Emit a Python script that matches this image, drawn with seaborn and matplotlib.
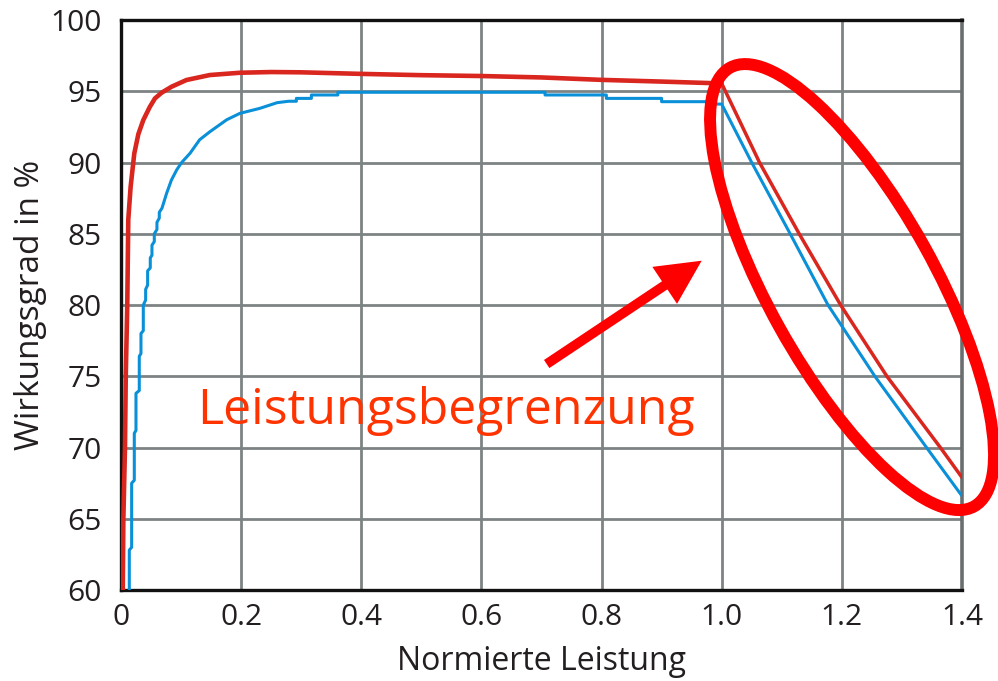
import numpy as np
import pandas as pd
import seaborn as sns
import matplotlib
matplotlib.use("Agg")
import matplotlib.pyplot as plt
from matplotlib.patches import Ellipse, FancyArrowPatch
from matplotlib.transforms import ScaledTranslation

# ---------------- data ----------------
red_x = [0.003, 0.004, 0.0067, 0.008, 0.0105, 0.0122, 0.0161, 0.0222, 0.029, 0.0372,
         0.048, 0.0566, 0.0677, 0.0843, 0.109, 0.148, 0.198, 0.25, 0.3, 0.4, 0.5, 0.6,
         0.7, 0.8, 0.9, 1.0]
red_y = [60.0, 65.0, 70.0, 75.0, 80.0, 86.0, 88.3, 90.64, 92.0, 92.98,
         93.9, 94.5, 94.9, 95.32, 95.79, 96.14, 96.3, 96.35, 96.33, 96.22, 96.13, 96.07,
         95.97, 95.8, 95.68, 95.55]

red_lim_x = [1.0, 1.063, 1.129, 1.198, 1.275, 1.364, 1.4]
red_lim_y = [95.55, 90.0, 85.0, 80.0, 75.0, 70.0, 67.9]

blue_x = [0.0139, 0.0139, 0.0178, 0.0178, 0.0222, 0.0222, 0.0250, 0.0250, 0.0305, 0.0305,
          0.0333, 0.0333, 0.0372, 0.0372, 0.0411, 0.0411, 0.0444, 0.0444, 0.0488, 0.0488,
          0.0516, 0.0516, 0.0555, 0.0555, 0.0599, 0.0599, 0.0638, 0.0638, 0.0683,
          0.076, 0.084, 0.093, 0.101, 0.115, 0.131, 0.148, 0.176, 0.198, 0.231, 0.26,
          0.279, 0.292, 0.292, 0.317, 0.317, 0.361, 0.361, 0.706, 0.706, 0.808, 0.808,
          0.9, 0.9, 0.983, 0.983, 1.0,
          1.05, 1.114, 1.177, 1.255, 1.341, 1.4]
blue_y = [60.0, 62.8, 63.0, 67.5, 67.7, 71.0, 71.2, 73.8, 74.0, 76.4,
          76.6, 78.0, 78.2, 80.0, 80.35, 81.1, 81.4, 82.4, 82.6, 83.3,
          83.5, 84.2, 84.45, 85.0, 85.3, 85.8, 86.1, 86.5, 86.8,
          87.84, 88.77, 89.5, 90.0, 90.65, 91.6, 92.16, 93.0, 93.45, 93.8, 94.2,
          94.3, 94.3, 94.5, 94.5, 94.74, 94.74, 94.93, 94.93, 94.74, 94.74, 94.5,
          94.5, 94.27, 94.27, 94.1, 94.1,
          90.0, 85.0, 80.0, 75.0, 70.0, 66.6]

x_ticks = [0, 0.2, 0.4, 0.6, 0.8, 1.0, 1.2, 1.4]
x_tick_labels = ["0", "0.2", "0.4", "0.6", "0.8", "1.0", "1.2", "1.4"]
y_ticks = [60, 65, 70, 75, 80, 85, 90, 95, 100]
y_tick_labels = ["60", "65", "70", "75", "80", "85", "90", "95", "100"]

x_label = "Normierte Leistung"
y_label = "Wirkungsgrad in %"
annotation_text = "Leistungsbegrenzung"

# ---------------- styling ----------------
sns.set_theme(style="white")
plt.rcParams["font.family"] = ["Open Sans", "DejaVu Sans"]

TEXT = "#231f20"
GRID = "#7d8384"
RED_CURVE = "#d9261f"
BLUE_CURVE = "#0a90d8"
MARK_RED = "#ff0000"

fig = plt.figure(figsize=(9.98, 6.81), dpi=100)
ax = fig.add_axes([0.1212, 0.1336, 0.8427, 0.8370])

df_red = pd.DataFrame({"x": red_x, "y": red_y})
df_red_lim = pd.DataFrame({"x": red_lim_x, "y": red_lim_y})
df_blue = pd.DataFrame({"x": blue_x, "y": blue_y})

sns.lineplot(data=df_blue, x="x", y="y", ax=ax, color=BLUE_CURVE, linewidth=2.2,
             estimator=None, sort=False, zorder=3)
sns.lineplot(data=df_red, x="x", y="y", ax=ax, color=RED_CURVE, linewidth=3.3,
             estimator=None, sort=False, zorder=4, solid_capstyle="butt")
sns.lineplot(data=df_red_lim, x="x", y="y", ax=ax, color=RED_CURVE, linewidth=2.5,
             estimator=None, sort=False, zorder=4)

ax.set_xlim(0, 1.4)
ax.set_ylim(60, 100)
ax.set_xticks(x_ticks)
ax.set_xticklabels(x_tick_labels)
ax.set_yticks(y_ticks)
ax.set_yticklabels(y_tick_labels)
ax.tick_params(axis="both", length=0, labelsize=21.5, colors=TEXT)
ax.tick_params(axis="y", pad=14)
ax.tick_params(axis="x", pad=9)

ax.set_axisbelow(True)
ax.grid(True, color=GRID, linewidth=2.0)

for side in ["left", "top", "bottom"]:
    ax.spines[side].set_color("#111111")
    ax.spines[side].set_linewidth(2.4)
    ax.spines[side].set_visible(True)
ax.spines["right"].set_color("#6a6e6f")
ax.spines["right"].set_linewidth(2.6)
ax.spines["right"].set_visible(True)

ax.set_xlabel(x_label, fontsize=23, color=TEXT, labelpad=10)
ax.set_ylabel(y_label, fontsize=24, color=TEXT, labelpad=2)

# ---------------- annotation ----------------
ax.text(0.1265, 71.65, annotation_text, color="#ff3300", fontsize=36,
        ha="left", va="baseline", zorder=6)

arrow = FancyArrowPatch((0.7087, 75.86), (0.9667, 83.11),
                        arrowstyle="simple,head_length=32,head_width=32,tail_width=7",
                        mutation_scale=1, color=MARK_RED, linewidth=0,
                        shrinkA=0, shrinkB=0, zorder=6)
ax.add_patch(arrow)

trans = fig.dpi_scale_trans + ScaledTranslation(1.217, 81.26, ax.transData)
ell = Ellipse((0, 0), width=5.02, height=1.66, angle=-60.9, transform=trans,
              fill=False, edgecolor=MARK_RED, linewidth=8.6, clip_on=False, zorder=7)
ax.add_patch(ell)

fig.savefig("out.png", dpi=100)
